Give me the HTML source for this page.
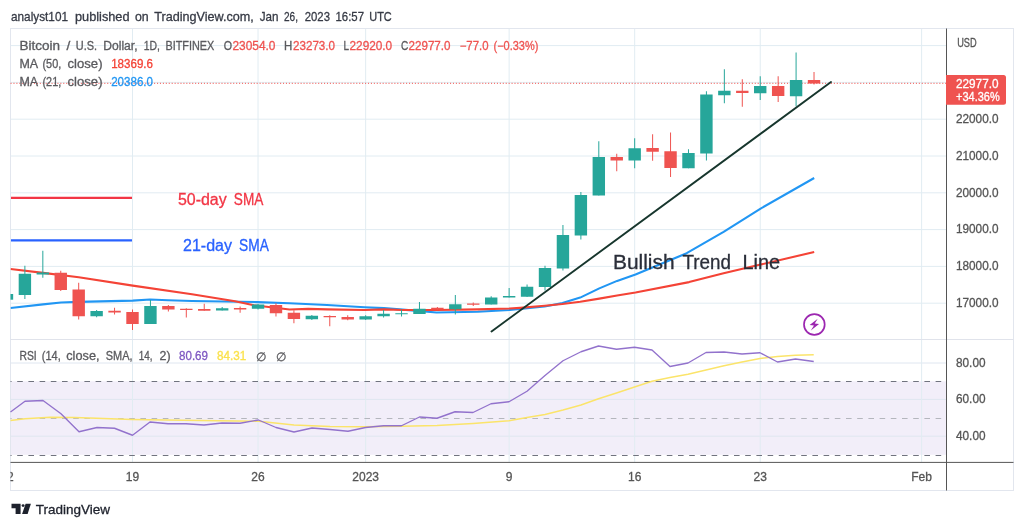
<!DOCTYPE html>
<html lang="en"><head><meta charset="utf-8"><title>BTCUSD chart</title>
<style>
html,body{margin:0;padding:0;background:#fff;}
body{width:1024px;height:528px;overflow:hidden;font-family:"Liberation Sans",sans-serif;}
svg{display:block;}
text{font-family:"Liberation Sans",sans-serif;stroke-width:0.3px;}
.b{stroke:currentColor;}
</style></head><body>
<svg width="1024" height="528" viewBox="0 0 1024 528">
<rect width="1024" height="528" fill="#fff"/>
<defs><clipPath id="pane"><rect x="10.5" y="28.5" width="936" height="462"/></clipPath></defs>

<text y="20.5" font-size="13" fill="#363a45" stroke="#363a45" xml:space="preserve"><tspan x="11" textLength="57" lengthAdjust="spacingAndGlyphs">analyst101</tspan> <tspan x="75" textLength="54.5" lengthAdjust="spacingAndGlyphs">published</tspan> <tspan x="135" textLength="13.75" lengthAdjust="spacingAndGlyphs">on</tspan> <tspan x="154.25" textLength="99.5" lengthAdjust="spacingAndGlyphs">TradingView.com,</tspan> <tspan x="259.75" textLength="18.75" lengthAdjust="spacingAndGlyphs">Jan</tspan> <tspan x="284" textLength="14" lengthAdjust="spacingAndGlyphs">26,</tspan> <tspan x="304.75" textLength="25.25" lengthAdjust="spacingAndGlyphs">2023</tspan> <tspan x="335.5" textLength="28.5" lengthAdjust="spacingAndGlyphs">16:57</tspan> <tspan x="369.25" textLength="22.5" lengthAdjust="spacingAndGlyphs">UTC</tspan></text>
<rect x="10.5" y="28.5" width="1003.0" height="462.0" fill="#fff" stroke="#e2e6ee" stroke-width="1"/>
<rect x="11.0" y="381.3" width="935.5" height="73.5" fill="#f2eef9"/>
<g stroke="#e1ecf2" stroke-width="1" clip-path="url(#pane)">
<line x1="10.5" x2="946.5" y1="45.60" y2="45.60"/>
<line x1="10.5" x2="946.5" y1="82.40" y2="82.40"/>
<line x1="10.5" x2="946.5" y1="119.20" y2="119.20"/>
<line x1="10.5" x2="946.5" y1="156.00" y2="156.00"/>
<line x1="10.5" x2="946.5" y1="192.80" y2="192.80"/>
<line x1="10.5" x2="946.5" y1="229.60" y2="229.60"/>
<line x1="10.5" x2="946.5" y1="266.40" y2="266.40"/>
<line x1="10.5" x2="946.5" y1="303.20" y2="303.20"/>
<line x1="10.5" x2="946.5" y1="363.00" y2="363.00" stroke="#dfe6f0"/>
<line x1="10.5" x2="946.5" y1="399.40" y2="399.40" stroke="#dfe6f0"/>
<line x1="10.5" x2="946.5" y1="436.20" y2="436.20" stroke="#dfe6f0"/>
<line x1="132.50" x2="132.50" y1="28.5" y2="462"/>
<line x1="258.04" x2="258.04" y1="28.5" y2="462"/>
<line x1="365.65" x2="365.65" y1="28.5" y2="462"/>
<line x1="509.13" x2="509.13" y1="28.5" y2="462"/>
<line x1="634.68" x2="634.68" y1="28.5" y2="462"/>
<line x1="760.22" x2="760.22" y1="28.5" y2="462"/>
<line x1="921.64" x2="921.64" y1="28.5" y2="462"/>
</g>
<line x1="10.5" x2="1013.5" y1="339.5" y2="339.5" stroke="#e0e3eb" stroke-width="1"/>
<line x1="10.5" x2="946.5" y1="381.5" y2="381.5" stroke="#70737e" stroke-width="1" stroke-dasharray="5.6 5.6" stroke-dashoffset="4.5"/>
<line x1="10.5" x2="946.5" y1="418.5" y2="418.5" stroke="#b4b6bd" stroke-width="1" stroke-dasharray="5.6 5.6" stroke-dashoffset="4.5"/>
<line x1="10.5" x2="946.5" y1="455.5" y2="455.5" stroke="#70737e" stroke-width="1" stroke-dasharray="5.6 5.6" stroke-dashoffset="4.5"/>
<line x1="10.5" x2="946.5" y1="83.3" y2="83.3" stroke="#ef5350" stroke-width="1" stroke-dasharray="1.1 1.83"/>
<polyline points="10.50,308.00 43.00,304.40 61.00,302.50 78.75,301.90 132.75,300.60 150.00,299.50 168.00,300.25 192.00,301.00 257.60,302.10 289.50,303.25 327.00,305.00 364.50,307.20 384.00,308.10 402.75,309.60 436.50,312.50 477.75,311.70 509.60,310.00 520.00,308.95 544.60,306.50 562.40,303.10 580.20,297.60 599.30,288.40 617.10,280.90 635.50,274.50 686.70,253.20 723.60,231.80 760.60,208.60 814.20,178.00" fill="none" stroke="#2196f3" stroke-width="2.1" stroke-linejoin="round" clip-path="url(#pane)"/>
<polyline points="10.50,269.00 43.10,272.90 78.75,277.20 132.75,285.60 192.00,294.30 235.10,301.20 253.90,305.30 270.75,307.20 289.50,309.50 308.25,308.90 327.00,309.40 364.50,310.00 384.00,309.40 402.75,310.00 436.50,310.00 477.75,309.40 509.60,308.50 520.00,307.85 544.60,305.80 562.40,304.00 580.20,301.70 599.30,298.60 617.10,295.50 635.50,292.50 689.10,282.10 723.60,273.30 760.60,264.60 814.20,252.00" fill="none" stroke="#f44336" stroke-width="2.1" stroke-linejoin="round" clip-path="url(#pane)"/>
<g clip-path="url(#pane)">
<line x1="6.96" x2="6.96" y1="292" y2="301" stroke="#26a69a" stroke-width="1"/>
<rect x="0.76" y="294" width="12.4" height="5.70" fill="#26a69a"/>
<line x1="24.89" x2="24.89" y1="265.75" y2="299" stroke="#26a69a" stroke-width="1"/>
<rect x="18.69" y="273.75" width="12.4" height="21.25" fill="#26a69a"/>
<line x1="42.83" x2="42.83" y1="250.75" y2="277.75" stroke="#26a69a" stroke-width="1"/>
<rect x="36.62" y="272.5" width="12.4" height="2.00" fill="#26a69a"/>
<line x1="60.76" x2="60.76" y1="270.75" y2="291" stroke="#ef5350" stroke-width="1"/>
<rect x="54.56" y="272.75" width="12.4" height="17.25" fill="#ef5350"/>
<line x1="78.70" x2="78.70" y1="282.75" y2="319.5" stroke="#ef5350" stroke-width="1"/>
<rect x="72.50" y="289.5" width="12.4" height="26.75" fill="#ef5350"/>
<line x1="96.63" x2="96.63" y1="310" y2="317.25" stroke="#26a69a" stroke-width="1"/>
<rect x="90.43" y="311" width="12.4" height="5.25" fill="#26a69a"/>
<line x1="114.56" x2="114.56" y1="307.75" y2="314.5" stroke="#ef5350" stroke-width="1"/>
<rect x="108.36" y="310.75" width="12.4" height="1.75" fill="#ef5350"/>
<line x1="132.50" x2="132.50" y1="309.5" y2="330" stroke="#ef5350" stroke-width="1"/>
<rect x="126.30" y="312" width="12.4" height="12.00" fill="#ef5350"/>
<line x1="150.44" x2="150.44" y1="300" y2="324" stroke="#26a69a" stroke-width="1"/>
<rect x="144.24" y="306" width="12.4" height="18.00" fill="#26a69a"/>
<line x1="168.37" x2="168.37" y1="305" y2="311.5" stroke="#ef5350" stroke-width="1"/>
<rect x="162.17" y="306" width="12.4" height="3.50" fill="#ef5350"/>
<line x1="186.31" x2="186.31" y1="308.25" y2="317.5" stroke="#ef5350" stroke-width="1"/>
<rect x="180.11" y="308.75" width="12.4" height="1.25" fill="#ef5350"/>
<line x1="204.24" x2="204.24" y1="303.75" y2="310.75" stroke="#ef5350" stroke-width="1"/>
<rect x="198.04" y="309" width="12.4" height="1.75" fill="#ef5350"/>
<line x1="222.18" x2="222.18" y1="307" y2="310.5" stroke="#26a69a" stroke-width="1"/>
<rect x="215.98" y="308.25" width="12.4" height="2.25" fill="#26a69a"/>
<line x1="240.11" x2="240.11" y1="306.5" y2="312.75" stroke="#ef5350" stroke-width="1"/>
<rect x="233.91" y="308" width="12.4" height="1.50" fill="#ef5350"/>
<line x1="258.04" x2="258.04" y1="304" y2="309.5" stroke="#26a69a" stroke-width="1"/>
<rect x="251.84" y="304.5" width="12.4" height="4.25" fill="#26a69a"/>
<line x1="275.98" x2="275.98" y1="303.25" y2="316.5" stroke="#ef5350" stroke-width="1"/>
<rect x="269.78" y="305" width="12.4" height="8.25" fill="#ef5350"/>
<line x1="293.91" x2="293.91" y1="310.25" y2="323.25" stroke="#ef5350" stroke-width="1"/>
<rect x="287.71" y="312.75" width="12.4" height="6.25" fill="#ef5350"/>
<line x1="311.85" x2="311.85" y1="315" y2="320" stroke="#26a69a" stroke-width="1"/>
<rect x="305.65" y="315.75" width="12.4" height="3.50" fill="#26a69a"/>
<line x1="329.78" x2="329.78" y1="315.25" y2="326.25" stroke="#ef5350" stroke-width="1"/>
<rect x="323.58" y="316" width="12.4" height="1.25" fill="#ef5350"/>
<line x1="347.72" x2="347.72" y1="315.25" y2="320.25" stroke="#ef5350" stroke-width="1"/>
<rect x="341.52" y="317" width="12.4" height="2.50" fill="#ef5350"/>
<line x1="365.65" x2="365.65" y1="315.25" y2="320" stroke="#26a69a" stroke-width="1"/>
<rect x="359.45" y="316.25" width="12.4" height="3.25" fill="#26a69a"/>
<line x1="383.59" x2="383.59" y1="310" y2="317.5" stroke="#26a69a" stroke-width="1"/>
<rect x="377.39" y="313.75" width="12.4" height="2.50" fill="#26a69a"/>
<line x1="401.52" x2="401.52" y1="309.5" y2="316.5" stroke="#26a69a" stroke-width="1"/>
<rect x="395.32" y="313.25" width="12.4" height="1.00" fill="#26a69a"/>
<line x1="419.46" x2="419.46" y1="302" y2="314" stroke="#26a69a" stroke-width="1"/>
<rect x="413.26" y="308.75" width="12.4" height="5.25" fill="#26a69a"/>
<line x1="437.39" x2="437.39" y1="307" y2="310" stroke="#ef5350" stroke-width="1"/>
<rect x="431.19" y="307.75" width="12.4" height="1.75" fill="#ef5350"/>
<line x1="455.33" x2="455.33" y1="295" y2="314.5" stroke="#26a69a" stroke-width="1"/>
<rect x="449.13" y="304.25" width="12.4" height="5.00" fill="#26a69a"/>
<line x1="473.26" x2="473.26" y1="302.5" y2="306" stroke="#ef5350" stroke-width="1"/>
<rect x="467.06" y="303.5" width="12.4" height="1.25" fill="#ef5350"/>
<line x1="491.20" x2="491.20" y1="296.25" y2="304.5" stroke="#26a69a" stroke-width="1"/>
<rect x="485.00" y="297.5" width="12.4" height="7.00" fill="#26a69a"/>
<line x1="509.13" x2="509.13" y1="288" y2="297.5" stroke="#26a69a" stroke-width="1"/>
<rect x="502.94" y="296" width="12.4" height="1.50" fill="#26a69a"/>
<line x1="527.07" x2="527.07" y1="284.5" y2="297" stroke="#26a69a" stroke-width="1"/>
<rect x="520.87" y="286.75" width="12.4" height="10.00" fill="#26a69a"/>
<line x1="545.00" x2="545.00" y1="265.75" y2="290.5" stroke="#26a69a" stroke-width="1"/>
<rect x="538.80" y="268" width="12.4" height="19.00" fill="#26a69a"/>
<line x1="562.94" x2="562.94" y1="225" y2="270.5" stroke="#26a69a" stroke-width="1"/>
<rect x="556.74" y="235" width="12.4" height="33.50" fill="#26a69a"/>
<line x1="580.88" x2="580.88" y1="192" y2="239.5" stroke="#26a69a" stroke-width="1"/>
<rect x="574.67" y="195" width="12.4" height="40.50" fill="#26a69a"/>
<line x1="598.81" x2="598.81" y1="141.25" y2="195.5" stroke="#26a69a" stroke-width="1"/>
<rect x="592.61" y="157" width="12.4" height="38.50" fill="#26a69a"/>
<line x1="616.74" x2="616.74" y1="153.75" y2="171.25" stroke="#ef5350" stroke-width="1"/>
<rect x="610.54" y="157" width="12.4" height="3.50" fill="#ef5350"/>
<line x1="634.68" x2="634.68" y1="138.25" y2="168.25" stroke="#26a69a" stroke-width="1"/>
<rect x="628.48" y="148.25" width="12.4" height="12.25" fill="#26a69a"/>
<line x1="652.62" x2="652.62" y1="134.25" y2="160.75" stroke="#ef5350" stroke-width="1"/>
<rect x="646.41" y="148" width="12.4" height="3.75" fill="#ef5350"/>
<line x1="670.55" x2="670.55" y1="132.5" y2="177" stroke="#ef5350" stroke-width="1"/>
<rect x="664.35" y="151.25" width="12.4" height="16.75" fill="#ef5350"/>
<line x1="688.49" x2="688.49" y1="149.25" y2="168.25" stroke="#26a69a" stroke-width="1"/>
<rect x="682.28" y="153" width="12.4" height="15.25" fill="#26a69a"/>
<line x1="706.42" x2="706.42" y1="91.25" y2="160.5" stroke="#26a69a" stroke-width="1"/>
<rect x="700.22" y="94.5" width="12.4" height="59.00" fill="#26a69a"/>
<line x1="724.35" x2="724.35" y1="69.25" y2="103.25" stroke="#26a69a" stroke-width="1"/>
<rect x="718.15" y="90.75" width="12.4" height="4.50" fill="#26a69a"/>
<line x1="742.29" x2="742.29" y1="79.25" y2="106.75" stroke="#ef5350" stroke-width="1"/>
<rect x="736.09" y="90.75" width="12.4" height="2.25" fill="#ef5350"/>
<line x1="760.22" x2="760.22" y1="76.25" y2="100" stroke="#26a69a" stroke-width="1"/>
<rect x="754.02" y="86" width="12.4" height="7.25" fill="#26a69a"/>
<line x1="778.16" x2="778.16" y1="76.25" y2="102" stroke="#ef5350" stroke-width="1"/>
<rect x="771.96" y="86" width="12.4" height="10.00" fill="#ef5350"/>
<line x1="796.09" x2="796.09" y1="52.5" y2="106.25" stroke="#26a69a" stroke-width="1"/>
<rect x="789.89" y="80" width="12.4" height="16.25" fill="#26a69a"/>
<line x1="814.03" x2="814.03" y1="72" y2="84.5" stroke="#ef5350" stroke-width="1"/>
<rect x="807.83" y="80" width="12.4" height="3.50" fill="#ef5350"/>
</g>
<line x1="491.5" y1="331.5" x2="831" y2="82" stroke="#17362d" stroke-width="1.9" stroke-linecap="round"/>
<line x1="11" x2="132" y1="197.8" y2="197.8" stroke="#f23645" stroke-width="2.2"/>
<line x1="11" x2="132" y1="240.3" y2="240.3" stroke="#2962ff" stroke-width="2.2"/>
<text y="205.2" font-size="15.6" fill="#f23645" stroke="#f23645" xml:space="preserve"><tspan x="177.9" textLength="48.8" lengthAdjust="spacingAndGlyphs">50-day</tspan> <tspan x="233.8" textLength="29.5" lengthAdjust="spacingAndGlyphs">SMA</tspan></text>
<text y="250.5" font-size="15.6" fill="#2962ff" stroke="#2962ff" xml:space="preserve"><tspan x="183" textLength="49" lengthAdjust="spacingAndGlyphs">21-day</tspan> <tspan x="239.1" textLength="29.7" lengthAdjust="spacingAndGlyphs">SMA</tspan></text>
<text y="269.4" font-size="20.4" fill="#2a2e39" stroke="#2a2e39" xml:space="preserve"><tspan x="613" textLength="61.6" lengthAdjust="spacingAndGlyphs">Bullish</tspan> <tspan x="682.5" textLength="48.5" lengthAdjust="spacingAndGlyphs">Trend</tspan> <tspan x="742.5" textLength="37.7" lengthAdjust="spacingAndGlyphs">Line</tspan></text>
<polyline points="10.50,420.50 25.00,418.75 50.00,417.25 75.00,417.50 132.00,419.50 200.00,420.50 258.50,421.25 294.00,425.00 330.00,426.50 365.00,426.75 401.50,426.25 437.00,425.50 473.00,423.50 509.00,420.75 527.00,417.50 545.00,414.50 563.00,410.00 581.00,405.00 598.50,398.75 616.50,393.00 634.50,387.00 652.00,381.25 670.00,377.50 688.00,374.25 706.00,370.00 724.00,365.75 742.00,362.00 760.00,358.50 777.50,356.50 795.50,355.25 813.75,354.75" fill="none" stroke="#fbe46a" stroke-width="1.4" stroke-linejoin="round"/>
<polyline points="10.50,412.00 25.00,401.25 43.00,400.50 61.00,413.75 79.00,431.75 97.00,427.50 114.50,428.25 132.50,435.25 150.00,422.00 168.00,423.75 186.00,423.75 204.00,425.00 222.00,423.00 240.00,423.25 258.50,420.00 276.00,427.50 294.00,432.00 312.00,428.00 330.00,429.50 348.00,431.25 365.50,427.50 383.50,425.75 401.50,425.75 419.50,417.00 437.00,418.25 455.00,411.75 473.00,412.50 491.00,403.75 509.00,401.75 527.00,391.25 545.00,375.50 563.00,360.75 581.00,351.75 598.50,346.00 616.50,349.25 634.50,347.25 652.00,350.00 670.00,366.50 688.00,363.00 706.00,352.50 724.00,352.00 742.00,354.00 760.00,352.75 777.50,362.00 795.50,359.00 813.75,361.50" fill="none" stroke="#9272cc" stroke-width="1.35" stroke-linejoin="round"/>
<g transform="translate(814.35,324.5)"><circle r="10.35" fill="#fff" stroke="#9c27b0" stroke-width="1.7"/><path d="M3.4,-5.8 L-4.7,0.5 L-0.4,1.0 L-3.5,5.9 L4.7,-0.5 L0.4,-1.0 Z" fill="#9c27b0"/></g>
<line x1="10.5" x2="1013.5" y1="462.4" y2="462.4" stroke="#555" stroke-width="1"/>
<line x1="946.5" x2="946.5" y1="28.5" y2="490.5" stroke="#555" stroke-width="1"/>
<text y="49.5" font-size="12" fill="#5a5a5e" stroke="#5a5a5e" xml:space="preserve"><tspan x="19.5" textLength="40.5" lengthAdjust="spacingAndGlyphs">Bitcoin</tspan> <tspan x="66.6" textLength="3.8" lengthAdjust="spacingAndGlyphs">/</tspan> <tspan x="75.75" textLength="21.25" lengthAdjust="spacingAndGlyphs">U.S.</tspan> <tspan x="103.25" textLength="34.25" lengthAdjust="spacingAndGlyphs">Dollar,</tspan> <tspan x="143.75" textLength="16.25" lengthAdjust="spacingAndGlyphs">1D,</tspan> <tspan x="165.5" textLength="48.75" lengthAdjust="spacingAndGlyphs">BITFINEX</tspan></text>
<text x="223.7" y="49.5" font-size="12" fill="#5a5a5e" stroke="#5a5a5e" textLength="8.3" lengthAdjust="spacingAndGlyphs">O</text>
<text x="232.5" y="49.5" font-size="12" fill="#ef5350" stroke="#ef5350" textLength="43" lengthAdjust="spacingAndGlyphs">23054.0</text>
<text x="284" y="49.5" font-size="12" fill="#5a5a5e" stroke="#5a5a5e" textLength="8.3" lengthAdjust="spacingAndGlyphs">H</text>
<text x="293" y="49.5" font-size="12" fill="#ef5350" stroke="#ef5350" textLength="42" lengthAdjust="spacingAndGlyphs">23273.0</text>
<text x="343.5" y="49.5" font-size="12" fill="#5a5a5e" stroke="#5a5a5e" textLength="5.5" lengthAdjust="spacingAndGlyphs">L</text>
<text x="349.5" y="49.5" font-size="12" fill="#ef5350" stroke="#ef5350" textLength="42.7" lengthAdjust="spacingAndGlyphs">22920.0</text>
<text x="401" y="49.5" font-size="12" fill="#5a5a5e" stroke="#5a5a5e" textLength="7.3" lengthAdjust="spacingAndGlyphs">C</text>
<text x="408.5" y="49.5" font-size="12" fill="#ef5350" stroke="#ef5350" textLength="42" lengthAdjust="spacingAndGlyphs">22977.0</text>
<text x="459.7" y="49.5" font-size="12" fill="#ef5350" stroke="#ef5350" textLength="28.8" lengthAdjust="spacingAndGlyphs">−77.0</text>
<text x="493.5" y="49.5" font-size="12" fill="#ef5350" stroke="#ef5350" textLength="44.8" lengthAdjust="spacingAndGlyphs">(−0.33%)</text>
<text y="68" font-size="12" fill="#5a5a5e" stroke="#5a5a5e" xml:space="preserve"><tspan x="19.5" textLength="18.0" lengthAdjust="spacingAndGlyphs">MA</tspan> <tspan x="42.5" textLength="18.75" lengthAdjust="spacingAndGlyphs">(50,</tspan> <tspan x="67.5" textLength="35.0" lengthAdjust="spacingAndGlyphs">close)</tspan></text>
<text x="111.2" y="68" font-size="12" fill="#f44336" stroke="#f44336" textLength="41.8" lengthAdjust="spacingAndGlyphs">18369.6</text>
<text y="86.3" font-size="12" fill="#5a5a5e" stroke="#5a5a5e" xml:space="preserve"><tspan x="19.5" textLength="18.0" lengthAdjust="spacingAndGlyphs">MA</tspan> <tspan x="42.5" textLength="18.75" lengthAdjust="spacingAndGlyphs">(21,</tspan> <tspan x="67.5" textLength="35.0" lengthAdjust="spacingAndGlyphs">close)</tspan></text>
<text x="111.2" y="86.3" font-size="12" fill="#2196f3" stroke="#2196f3" textLength="41.8" lengthAdjust="spacingAndGlyphs">20386.0</text>
<text y="360" font-size="12" fill="#5a5a5e" stroke="#5a5a5e" xml:space="preserve"><tspan x="19.5" textLength="17.25" lengthAdjust="spacingAndGlyphs">RSI</tspan> <tspan x="41.75" textLength="19.0" lengthAdjust="spacingAndGlyphs">(14,</tspan> <tspan x="66.25" textLength="33.25" lengthAdjust="spacingAndGlyphs">close,</tspan> <tspan x="105.75" textLength="26.75" lengthAdjust="spacingAndGlyphs">SMA,</tspan> <tspan x="138.75" textLength="13.75" lengthAdjust="spacingAndGlyphs">14,</tspan> <tspan x="159.5" textLength="11.0" lengthAdjust="spacingAndGlyphs">2)</tspan></text>
<text x="179" y="360" font-size="12" fill="#7e57c2" stroke="#7e57c2" textLength="29" lengthAdjust="spacingAndGlyphs">80.69</text>
<text x="217" y="360" font-size="12" fill="#fbe24d" stroke="#fbe24d" textLength="29.2" lengthAdjust="spacingAndGlyphs">84.31</text>
<text x="255.7" y="360.7" font-size="11.8" fill="#5a5a5e" stroke="#5a5a5e">∅</text>
<text x="276.4" y="360.7" font-size="11.8" fill="#5a5a5e" stroke="#5a5a5e">∅</text>
<text x="957.2" y="47" font-size="12" fill="#555" stroke="#555" textLength="19.5" lengthAdjust="spacingAndGlyphs">USD</text>
<text x="956" y="122.9" font-size="12" fill="#555" stroke="#555" textLength="42.5" lengthAdjust="spacingAndGlyphs">22000.0</text>
<text x="956" y="159.7" font-size="12" fill="#555" stroke="#555" textLength="42.5" lengthAdjust="spacingAndGlyphs">21000.0</text>
<text x="956" y="196.5" font-size="12" fill="#555" stroke="#555" textLength="42.5" lengthAdjust="spacingAndGlyphs">20000.0</text>
<text x="956" y="233.3" font-size="12" fill="#555" stroke="#555" textLength="42.5" lengthAdjust="spacingAndGlyphs">19000.0</text>
<text x="956" y="270.1" font-size="12" fill="#555" stroke="#555" textLength="42.5" lengthAdjust="spacingAndGlyphs">18000.0</text>
<text x="956" y="306.9" font-size="12" fill="#555" stroke="#555" textLength="42.5" lengthAdjust="spacingAndGlyphs">17000.0</text>
<text x="956" y="366.7" font-size="12" fill="#555" stroke="#555" textLength="29.5" lengthAdjust="spacingAndGlyphs">80.00</text>
<text x="956" y="403.1" font-size="12" fill="#555" stroke="#555" textLength="29.5" lengthAdjust="spacingAndGlyphs">60.00</text>
<text x="956" y="439.9" font-size="12" fill="#555" stroke="#555" textLength="29.5" lengthAdjust="spacingAndGlyphs">40.00</text>
<path d="M946,75 H1003.5 Q1006,75 1006,77.5 V102.2 Q1006,104.7 1003.5,104.7 H946 Z" fill="#ef5350"/>
<text x="956" y="88" font-size="12" fill="#fff" stroke="#fff" textLength="42.5" lengthAdjust="spacingAndGlyphs">22977.0</text>
<text x="956" y="101.2" font-size="12" fill="#fff" stroke="#fff" textLength="43.7" lengthAdjust="spacingAndGlyphs">+34.36%</text>
<g clip-path="url(#pane)">
<text x="6.96" y="481.3" font-size="12" fill="#555" stroke="#555" text-anchor="middle">12</text>
<text x="132.5" y="481.3" font-size="12" fill="#555" stroke="#555" text-anchor="middle">19</text>
<text x="258.04" y="481.3" font-size="12" fill="#555" stroke="#555" text-anchor="middle">26</text>
<text x="365.65" y="481.3" font-size="12" fill="#555" stroke="#555" text-anchor="middle">2023</text>
<text x="509.13" y="481.3" font-size="12" fill="#555" stroke="#555" text-anchor="middle">9</text>
<text x="634.68" y="481.3" font-size="12" fill="#555" stroke="#555" text-anchor="middle">16</text>
<text x="760.22" y="481.3" font-size="12" fill="#555" stroke="#555" text-anchor="middle">23</text>
<text x="921.64" y="481.3" font-size="12" fill="#555" stroke="#555" text-anchor="middle">Feb</text>
</g>
<g fill="#1e222d"><path d="M11.5,503.7 H20.6 V514 H15.6 V508.3 H11.5 Z"/><circle cx="23.1" cy="505.6" r="1.45"/><path d="M25.6,503.7 H30.9 L27.6,514 H22.1 Z"/></g>
<text x="35.8" y="514.2" font-size="13.2" fill="#1e222d" stroke="#1e222d" textLength="74.2" lengthAdjust="spacingAndGlyphs">TradingView</text>
</svg></body></html>
